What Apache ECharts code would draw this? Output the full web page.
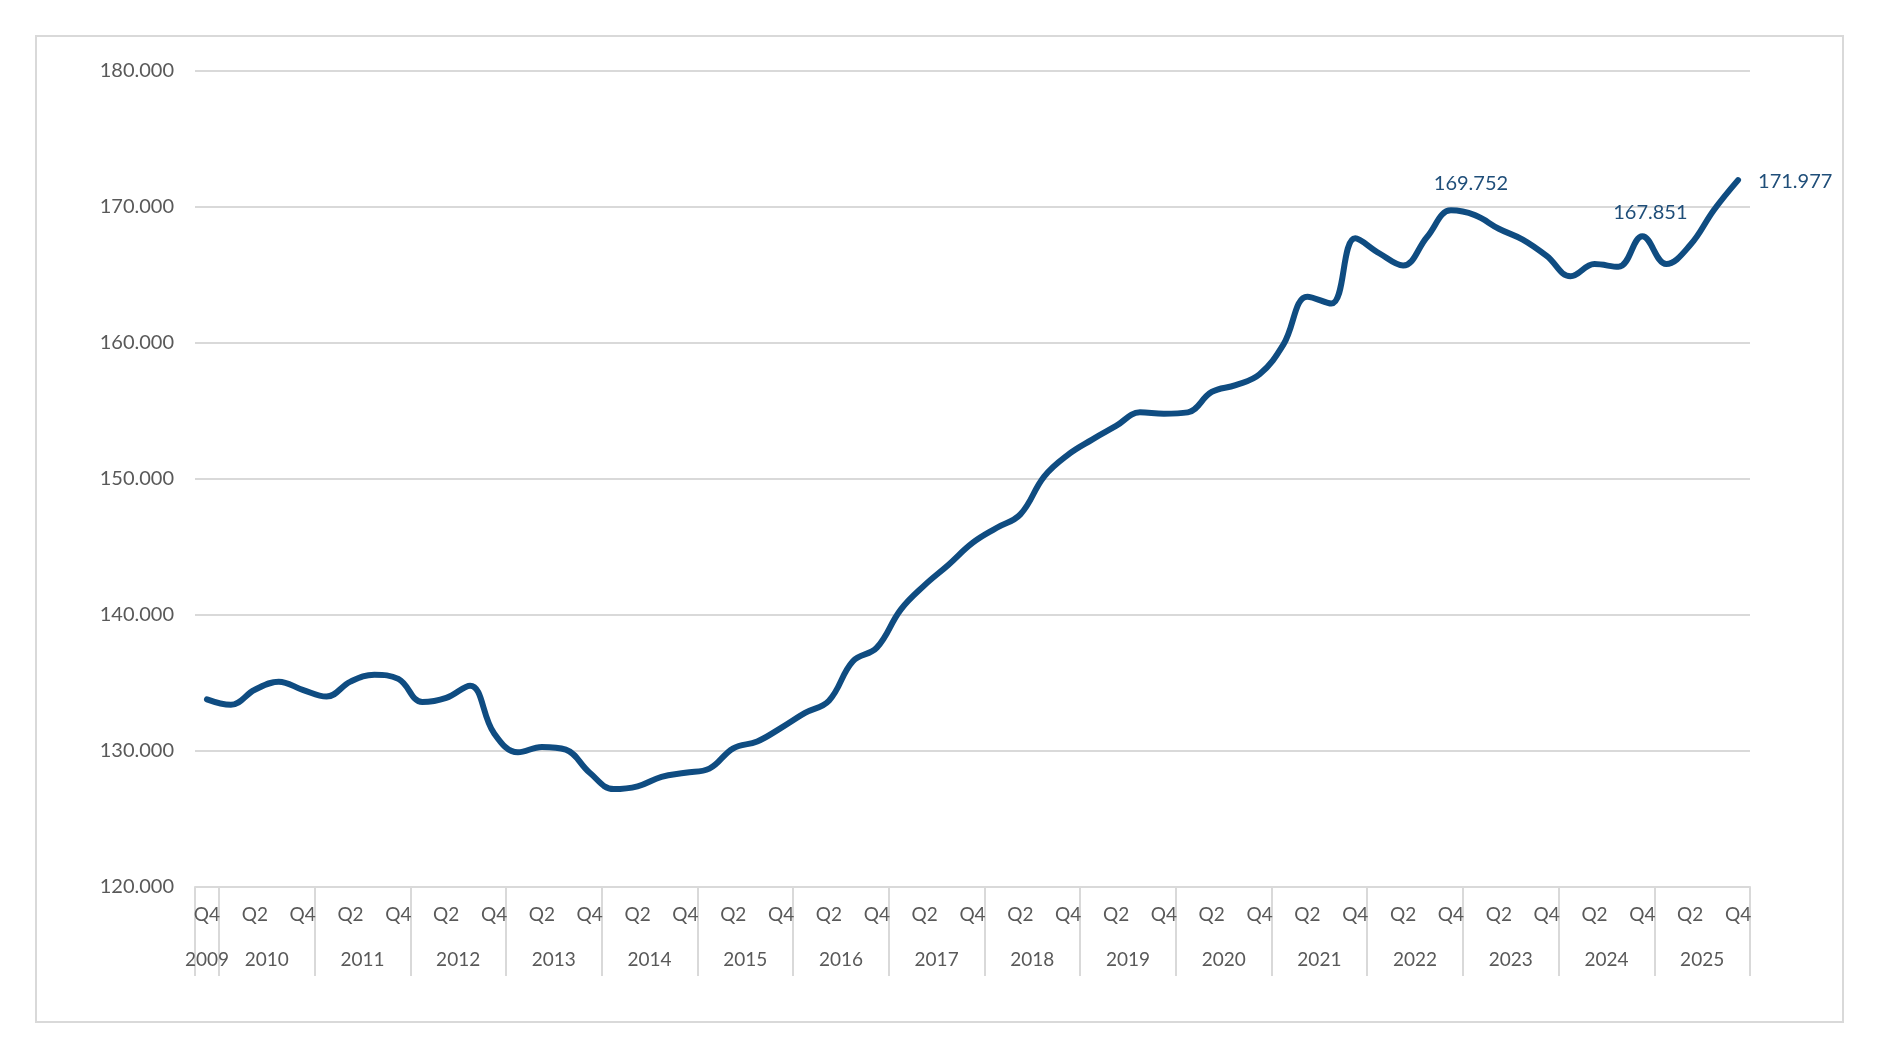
<!DOCTYPE html>
<html>
<head>
<meta charset="utf-8">
<script src="https://cdn.jsdelivr.net/npm/echarts@6/dist/echarts.min.js"></script>
<style>
html,body{margin:0;padding:0;background:#fff;}
#chart{width:1880px;height:1058px;}
</style>
</head>
<body>
<div id="chart"></div>
<script>
// ---- data ----
const years = ['2009','2010','2011','2012','2013','2014','2015','2016','2017','2018','2019','2020','2021','2022','2023','2024','2025'];
const quarterNames = ['Q1','Q2','Q3','Q4'];
const shownQuarterLabels = ['Q2','Q4'];
const indexValues = [
  133.8,
  133.4, 134.5, 135.1, 134.5,
  134.0, 135.1, 135.6, 135.3,
  133.6, 133.9, 134.8, 131.3,
  129.9, 130.3, 130.1, 128.4,
  127.2, 127.4, 128.1, 128.4,
  128.7, 130.2, 130.7, 131.7,
  132.8, 133.7, 136.6, 137.6,
  140.4, 142.2, 143.7, 145.3,
  146.4, 147.4, 150.2, 151.8,
  152.9, 153.9, 154.9, 154.8,
  154.9, 156.4, 156.9, 157.7,
  159.9, 163.4, 162.9, 167.7,
  166.6, 165.7, 167.8, 169.752,
  169.4, 168.4, 167.6, 166.4,
  164.9, 165.8, 165.6, 167.851,
  165.8, 167.2, 169.8, 171.977
];
const labelledPoints = [52, 60, 64];
const yTicks = {min: 120, max: 180, interval: 10};

// ---- build categories ----
const categories = ['2009-Q4'];
for (let y = 1; y < years.length; y++) {
  quarterNames.forEach(q => categories.push(years[y] + '-' + q));
}
// year separators and year label positions (in category index units)
const separators = [-0.5, 0.5];
const yearCenters = [0];
for (let y = 1; y < years.length; y++) {
  const start = 1 + (y - 1) * 4;
  separators.push(start + 3.5);
  yearCenters.push(start + 1.5);
}

const FONT = 'Lato';
const BLUE = '#0f4c81';
const LABEL_BLUE = '#1f4e79';
const GREY = '#595959';
const GRID_GREY = '#d9d9d9';

const labelStyles = {
  52: {position: 'top', distance: 5, offset: [20, -12]},
  60: {position: 'top', distance: 5, offset: [8, -9]},
  64: {position: 'right', distance: 20, offset: [0, 1]}
};

const seriesData = indexValues.map((v, i) => {
  if (labelledPoints.indexOf(i) >= 0) {
    return {
      value: v,
      label: Object.assign({
        show: true,
        formatter: p => p.value.toFixed(3),
        color: LABEL_BLUE,
        fontFamily: FONT,
        fontSize: 20
      }, labelStyles[i])
    };
  }
  return v;
});

const chart = echarts.init(document.getElementById('chart'), null, {renderer: 'canvas'});
chart.setOption({
  backgroundColor: '#ffffff',
  animation: false,
  graphic: [{
    type: 'rect',
    shape: {x: 36, y: 36, width: 1807, height: 986},
    style: {fill: 'none', stroke: GRID_GREY, lineWidth: 2},
    silent: true
  }],
  grid: {left: 195, right: 130, top: 71, bottom: 171},
  xAxis: [{
    type: 'category',
    data: categories,
    boundaryGap: true,
    axisLine: {show: true, lineStyle: {color: GRID_GREY, width: 2}},
    axisTick: {show: false},
    splitLine: {show: false},
    axisLabel: {
      interval: 0,
      margin: 18,
      color: GREY,
      fontFamily: FONT,
      fontSize: 19,
      formatter: v => {
        const q = v.split('-')[1];
        return shownQuarterLabels.indexOf(q) >= 0 ? q : '';
      }
    }
  }, {
    type: 'value',
    position: 'bottom',
    min: -0.5,
    max: 64.5,
    axisLine: {show: false},
    splitLine: {show: false},
    axisTick: {
      show: true,
      customValues: separators,
      length: 89,
      lineStyle: {color: GRID_GREY, width: 2}
    },
    axisLabel: {
      customValues: yearCenters,
      margin: 63,
      color: GREY,
      fontFamily: FONT,
      fontSize: 19,
      formatter: v => {
        const k = yearCenters.findIndex(c => Math.abs(c - v) < 1e-6);
        return k >= 0 ? years[k] : '';
      }
    }
  }],
  yAxis: {
    type: 'value',
    min: yTicks.min,
    max: yTicks.max,
    interval: yTicks.interval,
    axisLine: {show: false},
    axisTick: {show: false},
    splitLine: {lineStyle: {color: GRID_GREY, width: 2}},
    axisLabel: {
      margin: 21,
      color: GREY,
      fontFamily: FONT,
      fontSize: 20,
      formatter: v => v.toFixed(3)
    }
  },
  series: [{
    type: 'line',
    xAxisIndex: 0,
    data: seriesData,
    smooth: 0.4,
    symbol: 'circle',
    symbolSize: 0,
    showSymbol: true,
    lineStyle: {color: BLUE, width: 6, cap: 'round', join: 'round'},
    itemStyle: {color: BLUE},
    label: {show: false},
    emphasis: {disabled: true}
  }]
});
</script>
</body>
</html>
